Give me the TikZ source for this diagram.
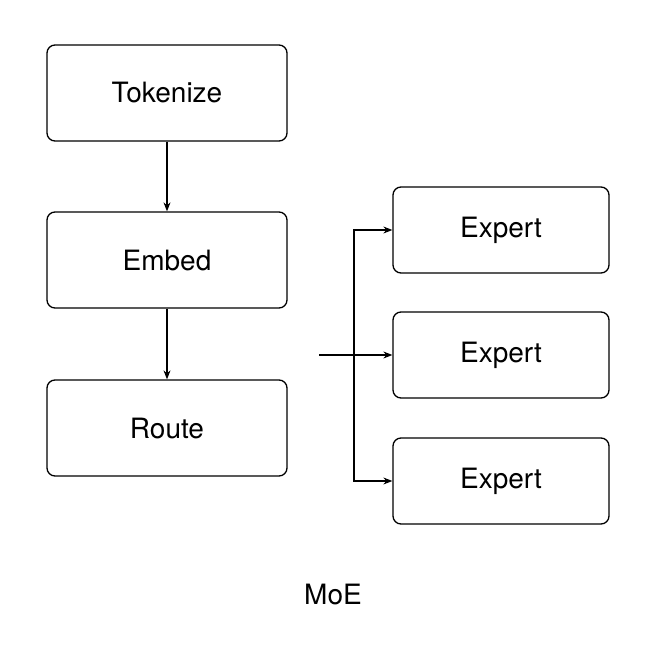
\documentclass[tikz,border=0pt]{standalone}
\usepackage{fontspec}
\setmainfont{TeX Gyre Heros}
\usetikzlibrary{arrows.meta}
\begin{document}
\begin{tikzpicture}[x=1pt,y=-1pt,
  box/.style={draw,line width=1.3pt,rounded corners=8pt,font=\fontsize{28}{32}\selectfont},
  conn/.style={line width=1.1pt,-{Stealth[length=9pt,width=7pt]}}]
\useasboundingbox (0,0) rectangle (659,659);
\node[box,minimum width=240pt,minimum height=96pt] (tok) at (167,93) {Tokenize};
\node[box,minimum width=240pt,minimum height=96pt] (emb) at (167,260) {Embed};
\node[box,minimum width=240pt,minimum height=96pt] (rou) at (167,428) {Route};
\node[box,minimum width=216pt,minimum height=86pt] (e1) at (501,230) {Expert};
\node[box,minimum width=216pt,minimum height=86pt] (e2) at (501,355) {Expert};
\node[box,minimum width=216pt,minimum height=86pt] (e3) at (501,481) {Expert};
\node[font=\fontsize{28}{32}\selectfont] (moe) at (333,594) {MoE};
\draw[conn] (tok) -- (emb);
\draw[conn] (emb) -- (rou);
\coordinate (src) at (319,355);
\coordinate (br) at (354,355);
\draw[conn] (src) -- (e2);
\draw[conn] (br) |- (e1);
\draw[conn] (br) |- (e3);
\end{tikzpicture}
\end{document}
